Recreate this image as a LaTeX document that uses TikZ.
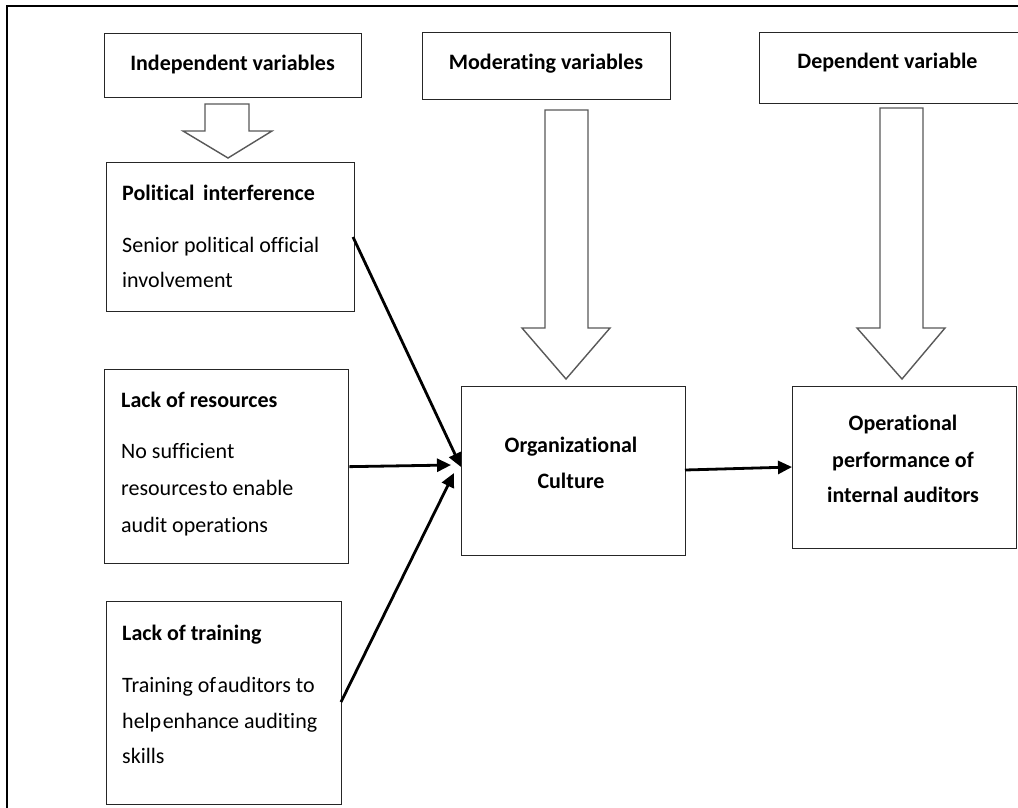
\documentclass[tikz,border=0pt]{standalone}
\usepackage{fontspec}
\setmainfont[Ligatures=NoCommon]{Carlito}
\usetikzlibrary{arrows.meta}
\tikzset{
  box/.style={draw=black!85, line width=1.3pt, rectangle, anchor=north west, inner sep=0pt},
  txt/.style={anchor=base west, inner sep=0pt, font=\fontsize{22}{26}\selectfont, text=black},
  btxt/.style={txt, font=\fontsize{22}{26}\selectfont\bfseries},
  ctxt/.style={anchor=base, inner sep=0pt, font=\fontsize{22}{26}\selectfont\bfseries, text=black},
  conn/.style={line width=2.8pt, -{Triangle[length=14pt,width=13pt]}},
  hollow/.style={draw=black!65, line width=1.4pt, fill=white, line join=miter},
}
\begin{document}
\begin{tikzpicture}[x=1pt,y=-1pt]
\useasboundingbox (0,0) rectangle (1018,807);
\fill[white] (0,0) rectangle (1018,807);
\begin{scope}
\clip (0,0) rectangle (1018,807);
% outer frame
\draw[line width=2.8pt, black] (7,815) -- (7,6) -- (1030,6);

% heading boxes
\node[box, minimum width=257pt, minimum height=64pt] (hind) at (104,33) {};
\node[box, minimum width=248pt, minimum height=67pt] (hmod) at (422,32) {};
\node[box, minimum width=266pt, minimum height=71pt] (hdep) at (759,32) {};
\node[ctxt] (tind) at (232.5,70) {Independent variables};
\node[ctxt] (tmod) at (546,69) {Moderating variables};
\node[ctxt] (tdep) at (887.5,68) {Dependent variable};

% hollow arrows
\draw[hollow] (205,104) -- (249,104) -- (249,131) -- (272,131) -- (228,158) -- (183,131) -- (205,131) -- cycle;
\draw[hollow] (545,110) -- (588,110) -- (588,328) -- (610,328) -- (566,379) -- (522,328) -- (545,328) -- cycle;
\draw[hollow] (880,108) -- (923,108) -- (923,328) -- (945,328) -- (902,379) -- (857,328) -- (880,328) -- cycle;

% left boxes
\node[box, minimum width=248pt, minimum height=149pt] (pol) at (106,162) {};
\node[btxt] (tpol1) at (122,200) {Political\ \,interference};
\node[txt] (tpol2) at (122,252) {Senior political official};
\node[txt] (tpol3) at (122,287) {involvement};

\node[box, minimum width=244pt, minimum height=194pt] (res) at (104,369) {};
\node[btxt] (tres1) at (121,407) {Lack of resources};
\node[txt] (tres2) at (121,458) {No sufficient};
\node[txt] (tres3) at (121,495) {resources\hspace{1.5pt}to enable};
\node[txt] (tres4) at (121,532) {audit operations};

\node[box, minimum width=235pt, minimum height=203pt] (tra) at (106,601) {};
\node[btxt] (ttra1) at (122,640) {Lack of training};
\node[txt] (ttra2) at (122,692) {Training of\hspace{1.5pt}auditors to};
\node[txt] (ttra3) at (122,728) {help\hspace{1.5pt}enhance auditing};
\node[txt] (ttra4) at (122,763) {skills};

% centre and right boxes
\node[box, minimum width=224pt, minimum height=169pt] (org) at (461,386) {};
\node[ctxt] (torg1) at (571,452) {Organizational};
\node[ctxt] (torg2) at (571,488) {Culture};

\node[box, minimum width=224pt, minimum height=162pt] (op) at (792,386) {};
\node[ctxt] (top1) at (903,430) {Operational};
\node[ctxt] (top2) at (903,467) {performance of};
\node[ctxt] (top3) at (903,502) {internal auditors};

% connector end points
\coordinate (e1) at (461,467);
\coordinate (e2) at (451,465);
\coordinate (e3) at (454,473);
\coordinate (s1) at (353,237);
\coordinate (s3) at (341,702);
\coordinate (s4) at (685,470);
\coordinate (e4) at (792,467);

\draw[conn] (s1) -- (e1);
\draw[conn] (res.east) -- (e2);
\draw[conn] (s3) -- (e3);
\draw[conn] (s4) -- (e4);
\end{scope}
\end{tikzpicture}
\end{document}
